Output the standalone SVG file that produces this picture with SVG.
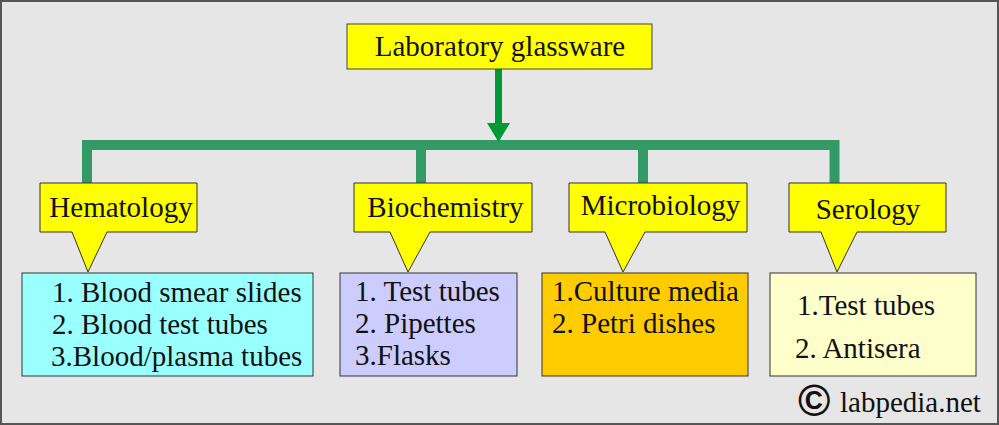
<svg xmlns="http://www.w3.org/2000/svg" width="999" height="425" viewBox="0 0 999 425">
<style>
text{font-family:"Liberation Serif","Times New Roman",serif;font-size:29px;fill:#111}
.call{fill:#FFFF00;stroke:#333;stroke-width:1}
.box{stroke:#333;stroke-width:1}
.mid{text-anchor:middle}
.conn{fill:none;stroke:#339966;stroke-width:10}
</style>
<rect x="1" y="1" width="997" height="423" fill="#E6E6E6" stroke="#555" stroke-width="2"/>
<g id="connectors">
<path class="conn" d="M87,183 V145 H834.5 V183"/>
<path class="conn" d="M421,145 V183 M643,145 V183"/>
<line x1="498.5" y1="69" x2="498.5" y2="124" stroke="#009933" stroke-width="7"/>
<polygon points="487,123 510,123 498.5,142" fill="#009933"/>
</g>
<g id="title">
<rect x="347" y="24" width="305" height="45" fill="#FFFF00" stroke="#444" stroke-width="1"/>
<text x="500" y="56" class="mid">Laboratory glassware</text>
</g>
<g id="hematology">
<path class="call" d="M40,183 H197 V232 H107 L88,272 L72,232 H40 Z"/>
<text x="121" y="217" class="mid">Hematology</text>
</g>
<g id="biochemistry">
<path class="call" d="M354,183 H532 V232 H430 L408,272 L390,232 H354 Z"/>
<text x="445.5" y="217" class="mid">Biochemistry</text>
</g>
<g id="microbiology">
<path class="call" d="M569,183 H747 V232 H645 L623,272 L605,232 H569 Z"/>
<text x="660.5" y="215" class="mid">Microbiology</text>
</g>
<g id="serology">
<path class="call" d="M789,183 H946 V232 H857 L837,272 L821,232 H789 Z"/>
<text x="868" y="219" class="mid">Serology</text>
</g>
<g id="hematology-items">
<rect class="box" x="22" y="273" width="291" height="103" fill="#99FFFF"/>
<text x="52" y="302">1. Blood smear slides</text>
<text x="52" y="334">2. Blood test tubes</text>
<text x="51" y="366">3.Blood/plasma tubes</text>
</g>
<g id="biochemistry-items">
<rect class="box" x="340" y="273" width="177" height="103" fill="#CCCCFF"/>
<text x="355" y="301">1. Test tubes</text>
<text x="355" y="333">2. Pipettes</text>
<text x="355" y="365">3.Flasks</text>
</g>
<g id="microbiology-items">
<rect class="box" x="542" y="273" width="206" height="103" fill="#FFCC00"/>
<text x="552" y="301">1.Culture media</text>
<text x="552" y="333">2. Petri dishes</text>
</g>
<g id="serology-items">
<rect class="box" x="770" y="273" width="206" height="103" fill="#FFFFCC"/>
<text x="797" y="315">1.Test tubes</text>
<text x="795" y="358">2. Antisera</text>
</g>
<g id="watermark">
<text x="798" y="416" style="font-family:'Liberation Sans',Arial,sans-serif;font-size:44px;font-weight:bold">©</text>
<text x="840" y="412">labpedia.net</text>
</g>
</svg>
